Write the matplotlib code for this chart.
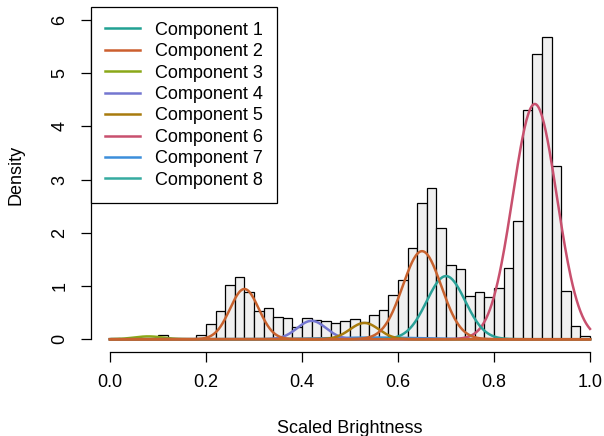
import numpy as np
import matplotlib
matplotlib.use("Agg")
import matplotlib.pyplot as plt
from matplotlib.lines import Line2D

plt.rcParams['font.family'] = ['Liberation Sans', 'DejaVu Sans']

# Histogram densities, bins of width 0.02 from 0 to 1
bin_edges = np.linspace(0, 1, 51)
densities = [0.03, 0.0, 0.0, 0.0, 0.0, 0.08, 0.0, 0.0, 0.0, 0.075,
             0.28, 0.53, 1.02, 1.17, 0.88, 0.54, 0.59, 0.41, 0.39, 0.23,
             0.40, 0.37, 0.35, 0.31, 0.34, 0.38, 0.33, 0.46, 0.55, 0.84,
             1.12, 1.71, 2.57, 2.84, 2.10, 1.39, 1.32, 0.81, 0.88, 0.79,
             0.97, 1.34, 2.22, 4.30, 5.37, 5.68, 3.25, 0.91, 0.245, 0.056]

# Fitted mixture components (drawing order)
comp_means = [0.08, 0.55, 0.885, 0.70, 0.42, 0.53, 0.28, 0.65]
comp_sds = [0.030, 0.100, 0.046, 0.040, 0.030, 0.030, 0.030, 0.040]
comp_weights = [0.004, 0.008, 0.51, 0.119, 0.026, 0.023, 0.071, 0.166]
comp_colors = ['#8aa818', '#3c8edb', '#c8506e', '#2aa198', '#7476d0',
               '#a87b0d', '#c8622e', '#c8622e']

legend_labels = ['Component %d' % i for i in range(1, 9)]
legend_colors = ['#21a193', '#cc5f2f', '#8aa818', '#7476d0', '#a87b0d',
                 '#c8506e', '#3c8edb', '#35aba0']

fig = plt.figure(figsize=(6.04, 4.36), dpi=100)
ax = fig.add_axes([90.8 / 604, 84 / 436, 518.4 / 604, 344.7 / 436])

widths = np.diff(bin_edges)
ax.bar(bin_edges[:-1], densities, width=widths, align='edge',
       facecolor='#f0f0f0', edgecolor='black', linewidth=0.9)

xs = np.linspace(0, 1, 500)
for m, s, w, c in zip(comp_means, comp_sds, comp_weights, comp_colors):
    ys = w * np.exp(-0.5 * ((xs - m) / s) ** 2) / (s * np.sqrt(2 * np.pi))
    ax.plot(xs, ys, color=c, linewidth=1.8)

ax.set_xlim(-0.04, 1.04)
ax.set_ylim(-0.24, 6.24)

for side in ['top', 'right']:
    ax.spines[side].set_visible(False)
ax.spines['left'].set_bounds(0, 6)
ax.spines['bottom'].set_bounds(0, 1)
ax.spines['left'].set_linewidth(0.9)
ax.spines['bottom'].set_linewidth(0.9)

ax.set_xticks([0, 0.2, 0.4, 0.6, 0.8, 1.0])
ax.set_xticklabels(['0.0', '0.2', '0.4', '0.6', '0.8', '1.0'])
ax.set_yticks(range(7))
ax.tick_params(axis='both', length=7, width=0.9, labelsize=13)
ax.tick_params(axis='x', pad=9)
ax.tick_params(axis='y', pad=9)
for lab in ax.get_yticklabels():
    lab.set_rotation(90)
    lab.set_va('center')

ax.set_xlabel('Scaled Brightness', fontsize=13, va='center')
ax.xaxis.set_label_coords(0.5, -0.2205)
ax.set_ylabel('Density', fontsize=13, va='center')
ax.yaxis.set_label_coords(-0.1443, 0.513)

handles = [Line2D([], [], color=c, linewidth=1.8) for c in legend_colors]
leg = ax.legend(handles, legend_labels, loc='upper left', bbox_to_anchor=(0, 1),
                borderaxespad=0, fontsize=13, handlelength=1.9,
                handletextpad=0.83, borderpad=0.8, labelspacing=0.245,
                fancybox=False, framealpha=1, edgecolor='black')
leg.get_frame().set_linewidth(0.9)

fig.savefig('out.png', dpi=100)
